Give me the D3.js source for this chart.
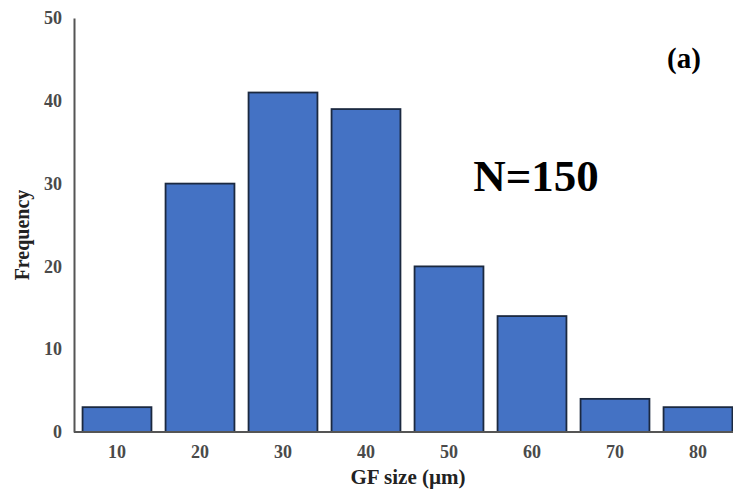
<!DOCTYPE html>
<html><head><meta charset="utf-8">
<script src="https://cdn.jsdelivr.net/npm/d3@7"></script>
<style>body{margin:0;background:#fff;}svg{display:block;}</style>
</head><body>
<script>
const categories = ["10","20","30","40","50","60","70","80"];
const frequency = [3,30,41,39,20,14,4,3];
const yTicks = [0,10,20,30,40,50];

const W = 733, H = 494;
const svg = d3.select("body").append("svg").attr("width", W).attr("height", H);

const x = d3.scaleBand().domain(categories).range([75.5, 739.5]).paddingInner(0.17).paddingOuter(0.085);
const y = d3.scaleLinear().domain([0,50]).range([432, 18]);

svg.selectAll("rect.bar").data(frequency).enter().append("rect")
  .attr("class","bar")
  .attr("x",(d,i)=>x(categories[i]))
  .attr("y",d=>y(d))
  .attr("width",x.bandwidth())
  .attr("height",d=>y(0)-y(d))
  .attr("fill","#4472C4")
  .attr("stroke","#1b2940")
  .attr("stroke-width",1.8);

// axes
const yAxis = svg.append("g").attr("transform","translate(74,0)")
  .call(d3.axisLeft(y).tickValues(yTicks).tickSize(0).tickPadding(12));
yAxis.select(".domain").attr("stroke","#555").attr("stroke-width",2);
yAxis.selectAll("text").attr("font-family","Liberation Serif").attr("font-size",18).attr("font-weight","bold").attr("fill","#4a4a4a");

const xAxis = svg.append("g").attr("transform","translate(0,432)")
  .call(d3.axisBottom(x).tickSize(0).tickPadding(13));
xAxis.select(".domain").attr("stroke","#555").attr("stroke-width",2).attr("d","M74,0H733");
xAxis.selectAll("text").attr("font-family","Liberation Serif").attr("font-size",18).attr("font-weight","bold").attr("fill","#4a4a4a");

svg.append("text").attr("x",408).attr("y",484).attr("text-anchor","middle")
  .attr("font-family","Liberation Serif").attr("font-weight","bold").attr("font-size",21).attr("fill","#222")
  .text("GF size (µm)");
svg.append("text").attr("transform","translate(29,235) rotate(-90)").attr("text-anchor","middle")
  .attr("font-family","Liberation Serif").attr("font-weight","bold").attr("font-size",20).attr("fill","#222")
  .text("Frequency");

svg.append("text").attr("x",536).attr("y",191).attr("text-anchor","middle")
  .attr("font-family","Liberation Serif").attr("font-weight","bold").attr("font-size",45).attr("fill","#000")
  .text("N=150");
svg.append("text").attr("x",684).attr("y",68).attr("text-anchor","middle")
  .attr("font-family","Liberation Serif").attr("font-weight","bold").attr("font-size",29).attr("fill","#000")
  .text("(a)");
</script>
</body></html>
